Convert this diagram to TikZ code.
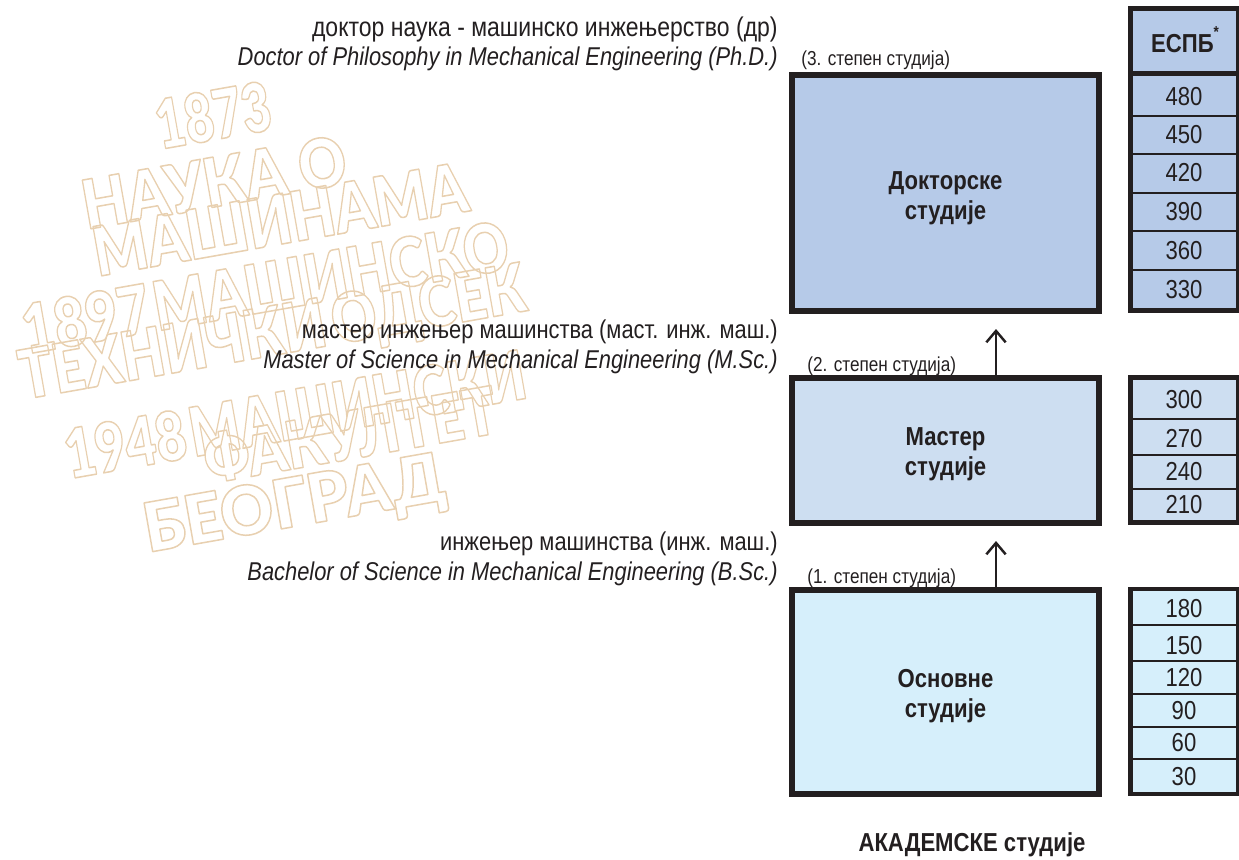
\documentclass[tikz,border=0pt]{standalone}
\usepackage{fontspec}
\usepackage{graphicx}
\setmainfont{Liberation Sans}
\newfontfamily\narrowfont[FakeStretch=0.85]{Liberation Sans}
\newfontfamily\stampfont{Lato Black}
\usetikzlibrary{arrows.meta, positioning}
\definecolor{myInk}{RGB}{35, 31, 32}
\definecolor{myDoc}{RGB}{182, 202, 232}
\definecolor{myMaster}{RGB}{205, 222, 241}
\definecolor{myBasic}{RGB}{214, 239, 251}
\definecolor{myTan}{RGB}{232, 208, 176}
% outlined letters for the background lettering, set to a given length
\newcommand{\outlined}[2]{\resizebox{#1cm}{1cm}{\special{pdf:code 1 Tr 0.9 w 1 J 1 j}#2\special{pdf:code 0 Tr}}}

\begin{document}
\begin{tikzpicture}[
    x=0.02cm, y=-0.02cm,
    % --- node styles ---
    levelbox/.style={rectangle, draw=myInk, line width=3.4pt, minimum width=6.14cm, inner sep=0pt, outer sep=0pt},
    boxtext/.style={text=myInk, inner sep=0pt, align=center, font=\narrowfont\fontsize{14.8}{17}\selectfont\bfseries},
    ectsframe/.style={rectangle, draw=myInk, line width=2.66pt, minimum width=2.155cm, inner sep=0pt, outer sep=0pt},
    ectsval/.style={text=myInk, inner sep=0pt, font=\narrowfont\fontsize{14.8}{17}\selectfont},
    boldval/.style={ectsval, anchor=base, font=\narrowfont\fontsize{14.8}{17}\selectfont\bfseries},
    % --- arrows ---
    steparrow/.style={-{Straight Barb[length=6.5pt, width=11pt, line width=1.4pt]}, draw=myInk, line width=1.3pt},
    % --- text ---
    titletext/.style={text=myInk, anchor=base east, inner sep=0pt, font=\narrowfont\fontsize{14.65}{17}\selectfont},
    cycletext/.style={text=myInk, anchor=base west, inner sep=0pt, font=\narrowfont\fontsize{11.5}{13}\selectfont},
    stamp/.style={text=myTan, rotate=10, inner sep=0pt, font=\stampfont\fontsize{40}{42}\selectfont}
]
\useasboundingbox (0,0) rectangle (1239,859);

% === background lettering ===
\node[stamp] (st1) at (213,115) {\outlined{2.32}{1873}};
\node[stamp] (st2) at (214,182) {\outlined{5.34}{НАУКА О}};
\node[stamp] (st3) at (280,219) {\outlined{7.58}{МАШИНАМА}};
\node[stamp] (st4) at (265,287) {\outlined{9.86}{1897\kern0.08em МАШИНСКО}};
\node[stamp] (st5) at (273,336) {\outlined{10.26}{ТЕХНИЧКИ\kern0.12em ОДСЕК}};
\node[stamp] (st6) at (295,414) {\outlined{9.34}{1948\kern0.08em МАШИНСКИ}};
\node[stamp] (st7) at (350,434) {\outlined{5.92}{ФАКУЛТЕТ}};
\node[stamp] (st8) at (295,507) {\outlined{6.1}{БЕОГРАД}};

% === level boxes ===
\node[levelbox, fill=myDoc, minimum height=4.72cm] (docbox) at (945.5,193) {};
\node[levelbox, fill=myMaster, minimum height=2.89cm] (masterbox) at (945.5,450.5) {};
\node[levelbox, fill=myBasic, minimum height=4.08cm] (basicbox) at (945.5,692) {};
\node[boxtext] (doctext) at (945.5,198) {Докторске\\студије};
\node[boxtext] (mastertext) at (945.5,454.5) {Мастер\\студије};
\node[boxtext] (basictext) at (945.5,696) {Основне\\студије};

% === arrows between the levels ===
\coordinate (tipdoc) at (996,329);
\coordinate (tipmaster) at (996,541);
\draw[steparrow] (masterbox.north -| tipdoc) -- (tipdoc);
\draw[steparrow] (basicbox.north -| tipmaster) -- (tipmaster);

% === credit columns ===
\node[ectsframe, fill=myDoc, minimum height=6.05cm] (docframe) at (1184.4,159.5) {};
\node[ectsframe, fill=myMaster, minimum height=2.9cm] (masterframe) at (1184.4,450) {};
\node[ectsframe, fill=myBasic, minimum height=4.1cm] (basicframe) at (1184.4,691.5) {};

\draw[draw=myInk, line width=2.8pt] (docframe.west |- 0,73.5) -- (docframe.east |- 0,73.5);
\node[boldval] (ectshead) at (1185,52.5) {ЕСПБ\raisebox{1.1ex}{\fontsize{9}{9}\selectfont *}};

\foreach \ypos/\wd in {116/0.6, 154/0.8, 193/0.8, 231/0.6, 270/0.6}
    \draw[draw=myInk, line width=\wd pt] (docframe.west |- 0,\ypos) -- (docframe.east |- 0,\ypos);
\foreach \ypos/\wd in {419/1.1, 455/0.8, 489/0.6}
    \draw[draw=myInk, line width=\wd pt] (masterframe.west |- 0,\ypos) -- (masterframe.east |- 0,\ypos);
\foreach \ypos/\wd in {625/1.1, 661/0.6, 694/0.8, 727/0.6, 759/0.6}
    \draw[draw=myInk, line width=\wd pt] (basicframe.west |- 0,\ypos) -- (basicframe.east |- 0,\ypos);

\foreach \val/\ypos in {480/97, 450/135, 420/173, 390/212, 360/251, 330/290,
                        300/400, 270/439, 240/472, 210/505,
                        180/609, 150/646, 120/678, 90/711, 60/743, 30/777}
    \node[ectsval] (ects\val) at (1184,\ypos) {\val};

% === degree titles ===
\node[titletext, font=\narrowfont\fontsize{15.4}{17}\selectfont] (phdsr) at (778,36) {доктор наука - машинско инжењерство (др)};
\node[titletext] (phden) at (778,65) {\itshape Doctor of Philosophy in Mechanical Engineering (Ph.D.)};
\node[titletext] (mscsr) at (778,338) {мастер инжењер машинства (маст. инж. маш.)};
\node[titletext] (mscen) at (778,368) {\itshape Master of Science in Mechanical Engineering (M.Sc.)};
\node[titletext] (bscsr) at (778,550) {инжењер машинства (инж. маш.)};
\node[titletext] (bscen) at (778,580) {\itshape Bachelor of Science in Mechanical Engineering (B.Sc.)};

\node[cycletext] (cycle3) at (801,65) {(3. степен студија)};
\node[cycletext] (cycle2) at (807,371) {(2. степен студија)};
\node[cycletext] (cycle1) at (807,583) {(1. степен студија)};

\node[boldval] (footer) at (972,851) {АКАДЕМСКЕ студије};

\end{tikzpicture}
\end{document}
